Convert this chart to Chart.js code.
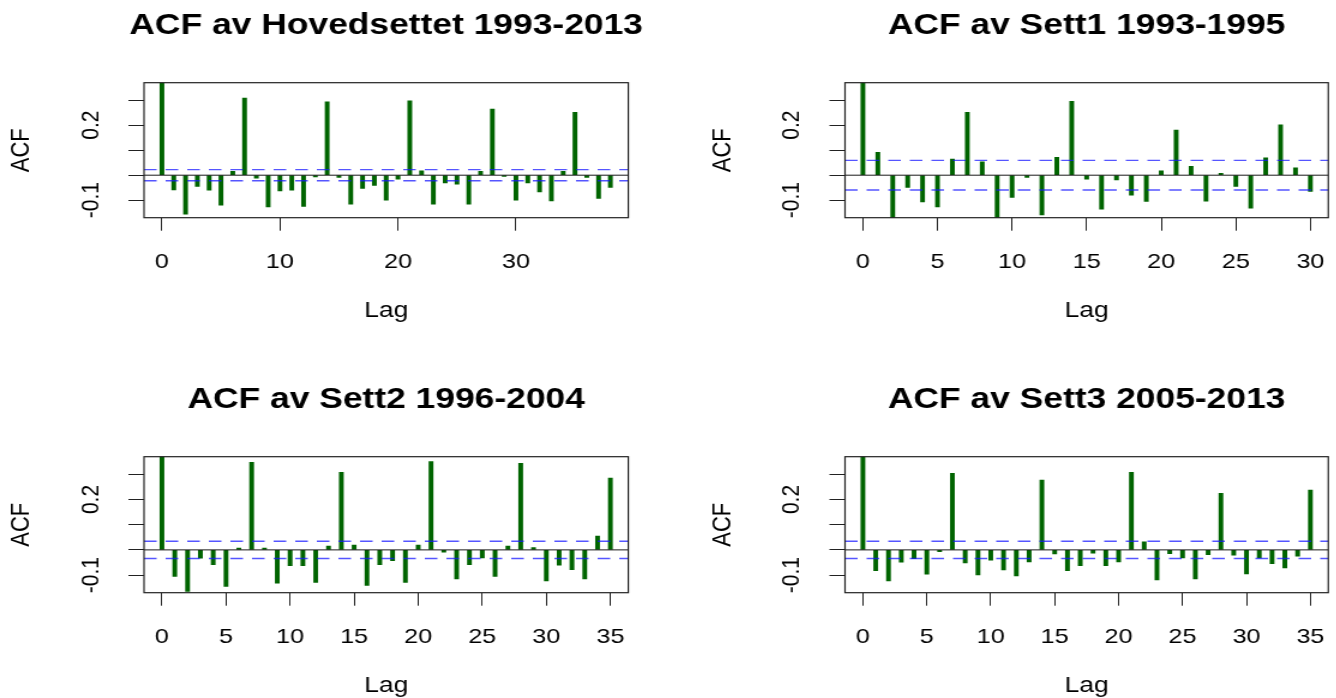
<!DOCTYPE html>
<html>
<head>
<meta charset="utf-8">
<title>ACF</title>
<script src="https://cdn.jsdelivr.net/npm/chart.js@4.4.1/dist/chart.umd.min.js"></script>
<style>
  html, body { margin: 0; padding: 0; background: #fff; width: 1336px; height: 698px; overflow: hidden; }
  body { position: relative; }
  canvas { position: absolute; transform-origin: 0 0; }
</style>
</head>
<body>
<canvas id="p1"></canvas>
<canvas id="p2"></canvas>
<canvas id="p3"></canvas>
<canvas id="p4"></canvas>
<script>
// Autocorrelation estimates, lag 0 first
const acfHoved = [1, -0.059, -0.156, -0.045, -0.060, -0.120, 0.015, 0.308, -0.012, -0.127,
  -0.063, -0.060, -0.125, -0.007, 0.293, -0.009, -0.116, -0.053, -0.041, -0.100,
  -0.016, 0.297, 0.017, -0.116, -0.031, -0.036, -0.116, 0.015, 0.264, -0.005,
  -0.100, -0.031, -0.067, -0.103, 0.015, 0.251, -0.009, -0.093, -0.049];
const acfSett1 = [1, 0.091, -0.172, -0.049, -0.107, -0.127, 0.064, 0.251, 0.053, -0.172,
  -0.089, -0.009, -0.159, 0.071, 0.295, -0.016, -0.136, -0.019, -0.080, -0.105,
  0.017, 0.180, 0.035, -0.104, 0.007, -0.045, -0.132, 0.069, 0.201, 0.029, -0.065];
const acfSett2 = [1, -0.105, -0.165, -0.033, -0.059, -0.145, 0.007, 0.348, 0.007, -0.132,
  -0.063, -0.063, -0.129, 0.015, 0.308, 0.019, -0.141, -0.059, -0.043, -0.129,
  0.019, 0.351, -0.009, -0.115, -0.059, -0.032, -0.105, 0.015, 0.344, 0.009,
  -0.123, -0.061, -0.079, -0.115, 0.055, 0.285];
const acfSett3 = [1, -0.083, -0.123, -0.049, -0.035, -0.096, -0.007, 0.304, -0.052, -0.099,
  -0.041, -0.080, -0.103, -0.048, 0.277, -0.016, -0.083, -0.063, -0.013, -0.063,
  -0.048, 0.308, 0.032, -0.119, -0.015, -0.032, -0.115, -0.019, 0.225, -0.021,
  -0.095, -0.032, -0.055, -0.072, -0.025, 0.237];

// 95% confidence bounds (white-noise band)
const ciHoved = 0.0224;
const ciSett1 = 0.0592;
const ciSett2 = 0.0342;
const ciSett3 = 0.0342;

const titles = ['ACF av Hovedsettet 1993-2013', 'ACF av Sett1 1993-1995',
                'ACF av Sett2 1996-2004', 'ACF av Sett3 2005-2013'];

// axis ticks
const xTicksHoved = [0, 10, 20, 30];
const xTicksSett1 = [0, 5, 10, 15, 20, 25, 30];
const xTicksSett23 = [0, 5, 10, 15, 20, 25, 30, 35];
const yTicks = [-0.1, 0, 0.1, 0.2, 0.3];
const yTickLabels = ['-0.1', '', '', '0.2', ''];
const yLimits = [-0.17, 0.37];

const FONT = '"Liberation Sans", Arial, Helvetica, sans-serif';
const TITLE_SIZE = 29.5;
const TICK_SIZE = 21;
const LABEL_SIZE = 22;
const SX_TARGET = 1.2;      // canvases are drawn narrow and widened horizontally
const Y_AXIS_W = 120;       // left axis (and the matching blank right margin)
const X_AXIS_H = 104;
const TITLE_GAP = 57;       // title centre above the plot frame
const CANVAS_W = 820;

const panels = [
  { id: 'p1', title: titles[0], acf: acfHoved, ci: ciHoved, xTicks: xTicksHoved,
    canvas: { left: 0, top: 0, h: 349 }, box: { l: 144, r: 628.3, t: 82.7, b: 217.7 } },
  { id: 'p2', title: titles[1], acf: acfSett1, ci: ciSett1, xTicks: xTicksSett1,
    canvas: { left: 668, top: 0, h: 349 }, box: { l: 845, r: 1328.3, t: 82.7, b: 217.7 } },
  { id: 'p3', title: titles[2], acf: acfSett2, ci: ciSett2, xTicks: xTicksSett23,
    canvas: { left: 0, top: 349, h: 349 }, box: { l: 144, r: 628.3, t: 456.7, b: 592.7 } },
  { id: 'p4', title: titles[3], acf: acfSett3, ci: ciSett3, xTicks: xTicksSett23,
    canvas: { left: 668, top: 349, h: 349 }, box: { l: 845, r: 1328.3, t: 456.7, b: 592.7 } }
];

// box around the plotting region
const framePlugin = {
  id: 'frame',
  afterDatasetsDraw(chart) {
    const { ctx, chartArea: a } = chart;
    ctx.save();
    ctx.strokeStyle = '#222';
    ctx.lineWidth = 1.2;
    ctx.strokeRect(a.left, a.top, a.right - a.left, a.bottom - a.top);
    ctx.restore();
  }
};

function makePanel(p) {
  const cv = document.getElementById(p.id);
  const Wi = Math.round(CANVAS_W / SX_TARGET);
  const sx = SX_TARGET;
  cv.width = Wi;
  cv.height = p.canvas.h;
  cv.style.left = p.canvas.left + 'px';
  cv.style.top = p.canvas.top + 'px';
  cv.style.width = Wi + 'px';
  cv.style.height = p.canvas.h + 'px';
  cv.style.transform = 'scaleX(' + sx + ')';

  const L = (p.box.l - p.canvas.left) / sx;
  const R = (p.box.r - p.canvas.left) / sx;
  const T = p.box.t - p.canvas.top;
  const B = p.box.b - p.canvas.top;
  const titleLH = TITLE_SIZE * 1.2;
  const titleCenter = T - TITLE_GAP;

  const maxLag = p.acf.length - 1;
  const xMin = -0.04 * maxLag, xMax = 1.04 * maxLag;
  const lags = p.acf.map((_, i) => i);

  const gridOpts = { display: true, offset: false, drawOnChartArea: false, drawTicks: true,
                     tickLength: 13, color: '#222', lineWidth: 1 };
  const ciLine = (v) => ({
    type: 'line', xAxisID: 'x', yAxisID: 'y',
    data: [{ x: xMin, y: v }, { x: xMax, y: v }],
    borderColor: 'rgba(20,20,255,0.72)', borderWidth: 1.4, borderDash: [10.5, 7.5],
    pointRadius: 0, fill: false, order: 0
  });

  new Chart(cv, {
    type: 'bar',
    data: {
      datasets: [
        { type: 'bar', xAxisID: 'x', yAxisID: 'y',
          data: lags.map((l, i) => ({ x: l, y: p.acf[i] })),
          backgroundColor: '#006400', borderWidth: 0, barThickness: 3.3, order: 2 },
        { type: 'line', xAxisID: 'x', yAxisID: 'y',
          data: [{ x: xMin, y: 0 }, { x: xMax, y: 0 }],
          borderColor: '#1a1a1a', borderWidth: 1, pointRadius: 0, fill: false, order: 1 },
        ciLine(p.ci),
        ciLine(-p.ci)
      ]
    },
    options: {
      responsive: false,
      animation: false,
      devicePixelRatio: 1,
      layout: { padding: { left: L - Y_AXIS_W, right: Wi - R - Y_AXIS_W, top: 0,
                           bottom: p.canvas.h - B - X_AXIS_H } },
      plugins: {
        legend: { display: false },
        tooltip: { enabled: false },
        title: {
          display: true, text: p.title, fullSize: true, color: '#000',
          font: { family: FONT, size: TITLE_SIZE, weight: 'bold', lineHeight: 1.2 },
          padding: { top: titleCenter - titleLH / 2, bottom: T - titleCenter - titleLH / 2 }
        }
      },
      scales: {
        x: {
          type: 'linear', min: xMin, max: xMax, offset: false,
          grid: gridOpts,
          border: { display: false },
          ticks: { autoSkip: false, maxRotation: 0, minRotation: 0, padding: 19, color: '#000',
                   font: { family: FONT, size: TICK_SIZE }, callback: (v) => String(v) },
          title: { display: true, text: 'Lag', color: '#000',
                   font: { family: FONT, size: LABEL_SIZE, lineHeight: 1 }, padding: { top: 0, bottom: 0 } },
          afterBuildTicks: (s) => { s.ticks = p.xTicks.map(v => ({ value: v })); },
          afterFit: (s) => { s.height = X_AXIS_H; s.paddingLeft = 0; s.paddingRight = 0; }
        },
        y: {
          type: 'linear', position: 'left', min: yLimits[0], max: yLimits[1],
          grid: gridOpts,
          border: { display: false },
          ticks: { autoSkip: false, minRotation: 90, maxRotation: 90, crossAlign: 'center', padding: 13,
                   color: '#000', font: { family: FONT, size: TICK_SIZE },
                   callback: (v, i) => yTickLabels[i] },
          title: { display: true, text: 'ACF', color: '#000',
                   font: { family: FONT, size: LABEL_SIZE, lineHeight: 1 }, padding: { top: 7.3, bottom: 0 } },
          afterBuildTicks: (s) => { s.ticks = yTicks.map(v => ({ value: v })); },
          afterFit: (s) => { s.width = Y_AXIS_W; s.paddingTop = 0; s.paddingBottom = 0; }
        },
        // empty margin on the right so the title centres over the plot
        yMargin: {
          type: 'linear', position: 'right', min: yLimits[0], max: yLimits[1],
          grid: { display: false }, border: { display: false },
          ticks: { display: false }, title: { display: false },
          afterFit: (s) => { s.width = Y_AXIS_W; s.paddingTop = 0; s.paddingBottom = 0; }
        }
      }
    },
    plugins: [framePlugin]
  });
}

panels.forEach(makePanel);
</script>
</body>
</html>
